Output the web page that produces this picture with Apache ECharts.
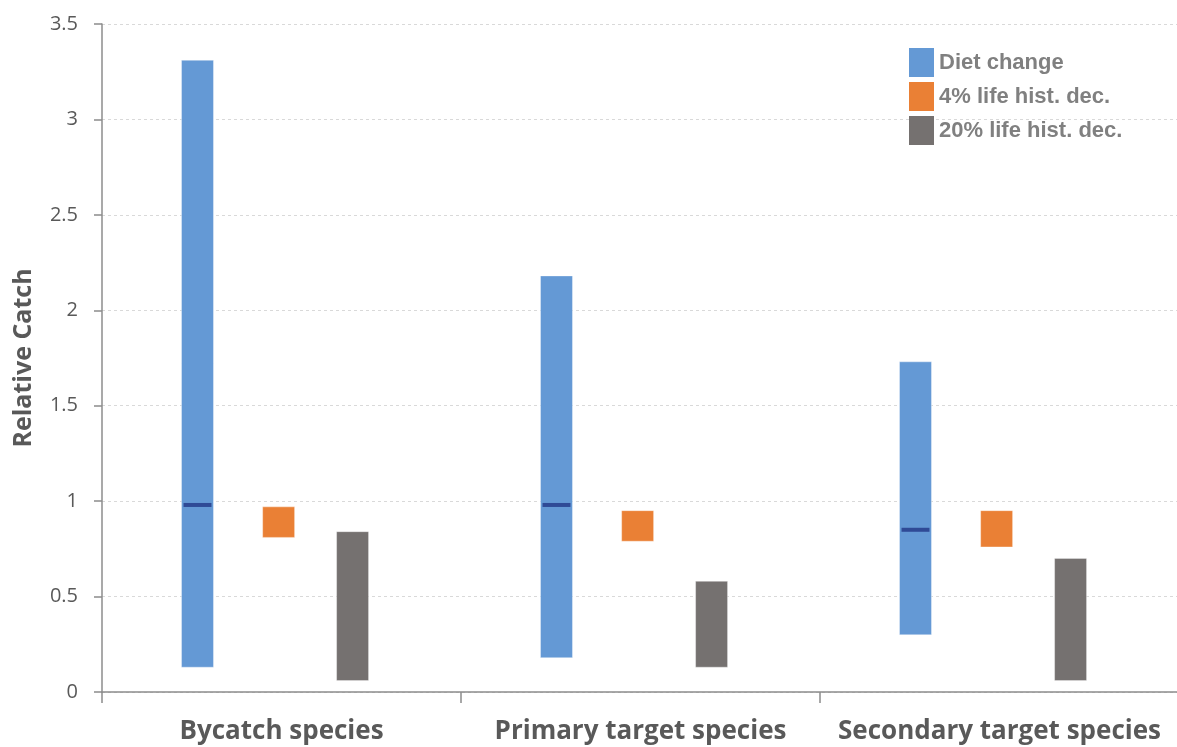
<!DOCTYPE html>
<html>
<head>
<meta charset="utf-8">
<script src="https://cdn.jsdelivr.net/npm/echarts@6/dist/echarts.min.js"></script>
<style>
html,body{margin:0;padding:0;background:#fff;}
#chart{width:1177px;height:747px;}
</style>
</head>
<body>
<div id="chart"></div>
<script>
var categories = ['Bycatch species', 'Primary target species', 'Secondary target species'];
var seriesNames = ['Diet change', '4% life hist. dec.', '20% life hist. dec.'];
// ranges: [low, high]
var dietLow = [0.13, 0.18, 0.30];
var dietHigh = [3.31, 2.18, 1.73];
var dietMedian = [0.98, 0.98, 0.85];
var lh4Low = [0.81, 0.79, 0.76];
var lh4High = [0.97, 0.95, 0.95];
var lh20Low = [0.06, 0.13, 0.06];
var lh20High = [0.84, 0.58, 0.70];
var yTicks = [0, 0.5, 1, 1.5, 2, 2.5, 3, 3.5];

var colors = ['#6499d5', '#ea8035', '#757170'];
var medianColor = '#2f4a96';
var offsets = [-0.234, -0.008, 0.198]; // fraction of band width
var barFrac = 0.089;

function makeData(low, high, med) {
  return categories.map(function (c, i) {
    return med ? [i, low[i], high[i], med[i]] : [i, low[i], high[i]];
  });
}

function makeRender(k) {
  return function (params, api) {
    var cat = api.value(0);
    var band = api.size([1, 0])[0];
    var cx = api.coord([cat, 0])[0] + offsets[k] * band;
    var w = barFrac * band;
    var yLow = api.coord([cat, api.value(1)])[1];
    var yHigh = api.coord([cat, api.value(2)])[1];
    var children = [{
      type: 'rect',
      shape: { x: cx - w / 2, y: yHigh, width: w, height: yLow - yHigh },
      style: { fill: colors[k], stroke: 'rgba(255,255,255,0.35)', lineWidth: 1 }
    }];
    if (k === 0) {
      var ym = api.coord([cat, api.value(3)])[1];
      children.push({
        type: 'rect',
        shape: { x: cx - w / 2 + 2, y: ym - 2, width: w - 4, height: 4 },
        style: { fill: medianColor }
      });
    }
    return { type: 'group', children: children };
  };
}

var chart = echarts.init(document.getElementById('chart'), null, { renderer: 'canvas' });
chart.setOption({
  animation: false,
  backgroundColor: '#ffffff',
  grid: { left: 102, top: 24, width: 1077, height: 668, containLabel: false, outerBoundsMode: 'none' },
  legend: {
    orient: 'vertical',
    left: 904,
    top: 43,
    itemWidth: 25,
    itemHeight: 29,
    itemGap: 5,
    icon: 'rect',
    data: seriesNames,
    textStyle: { fontFamily: 'Liberation Sans, Arial, sans-serif', fontWeight: 'bold', fontSize: 22, color: '#808080' }
  },
  xAxis: {
    type: 'category',
    data: categories,
    boundaryGap: true,
    axisLine: { lineStyle: { color: '#8c8c8c', width: 1.5 } },
    axisTick: { show: true, length: 11, alignWithLabel: false, lineStyle: { color: '#8c8c8c', width: 1.5 } },
    axisLabel: { fontFamily: 'Open Sans, sans-serif', fontWeight: 'bold', fontSize: 26, color: '#595959', margin: 27, interval: 0 },
    splitLine: { show: false }
  },
  yAxis: {
    type: 'value',
    min: yTicks[0],
    max: yTicks[yTicks.length - 1],
    interval: 0.5,
    name: 'Relative Catch',
    nameLocation: 'middle',
    nameGap: 66,
    nameTextStyle: { fontFamily: 'Open Sans, sans-serif', fontWeight: 'bold', fontSize: 25, color: '#595959' },
    axisLine: { show: true, lineStyle: { color: '#8c8c8c', width: 1.5 } },
    axisTick: { show: true, length: 8, lineStyle: { color: '#8c8c8c', width: 1.5 } },
    axisLabel: { fontFamily: 'Open Sans, sans-serif', fontSize: 20, color: '#595959', margin: 24 },
    splitLine: { show: true, lineStyle: { color: '#d9d9d9', type: [3, 3], width: 1 } }
  },
  series: [
    { name: seriesNames[0], type: 'custom', renderItem: makeRender(0), itemStyle: { color: colors[0] },
      encode: { x: 0, y: [1, 2] }, data: makeData(dietLow, dietHigh, dietMedian) },
    { name: seriesNames[1], type: 'custom', renderItem: makeRender(1), itemStyle: { color: colors[1] },
      encode: { x: 0, y: [1, 2] }, data: makeData(lh4Low, lh4High) },
    { name: seriesNames[2], type: 'custom', renderItem: makeRender(2), itemStyle: { color: colors[2] },
      encode: { x: 0, y: [1, 2] }, data: makeData(lh20Low, lh20High) }
  ]
});
</script>
</body>
</html>
